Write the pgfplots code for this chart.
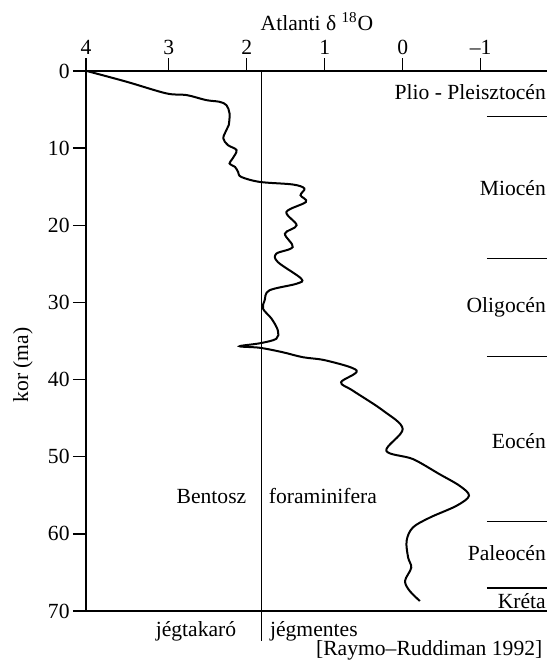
\documentclass[border=0pt]{standalone}
\usepackage{fontspec}
\setmainfont{Liberation Serif}
\usepackage{pgfplots}
\pgfplotsset{compat=1.18}
\begin{document}
\begin{tikzpicture}[font=\fontsize{10.8}{13}\selectfont]
\path[use as bounding box] (0,0) rectangle (273.5pt,332pt);
\begin{axis}[
  at={(43pt,26.5pt)}, anchor=south west,
  scale only axis, width=230.5pt, height=270pt,
  x dir=reverse, y dir=reverse,
  xmin=-1.85, xmax=4.06, ymin=0, ymax=70,
  axis x line*=box, axis y line*=left,
  axis line style={line width=0.7pt},
  xtick={4.06,3,2,1,0,-1}, xticklabels={4,3,2,1,0,–1},
  xtick pos=right, xticklabel pos=right,
  ytick={0,10,20,30,40,50,60,70}, ytick pos=left,
  tick align=outside, major tick length=6.5pt,
  tick style={line width=0.7pt, black},
  yticklabel style={/pgf/number format/assume math mode=true, inner sep=1.5pt},
  xticklabel style={inner sep=1.5pt},
  clip=false,
]
\addplot[black, smooth, tension=0.55, line width=1pt] coordinates {
(4.05,0) (3.54,1.39) (3.03,2.90) (2.77,3.12) (2.52,3.77) (2.35,3.99)
(2.26,4.42) (2.22,5.49) (2.23,7.01) (2.26,7.66) (2.30,8.74) (2.24,9.61)
(2.13,10.26) (2.18,11.34) (2.22,11.99) (2.15,12.43) (2.11,13.08) (2.07,13.73)
(1.83,14.38) (1.41,14.71) (1.26,15.23) (1.31,16.10) (1.24,16.97) (1.49,18.27)
(1.36,20.0) (1.51,21.08) (1.41,22.82) (1.62,23.68) (1.60,24.77) (1.30,26.92)
(1.36,27.57) (1.71,28.44) (1.77,29.74) (1.79,30.82) (1.68,32.12) (1.60,33.64)
(1.62,34.71) (1.83,35.29) (2.09,35.68) (1.83,35.88) (1.54,36.45) (1.28,37.1)
(0.98,37.53) (0.59,38.83) (0.79,40.35) (0.64,41.43) (0.25,44.03) (0.00,46.4)
(0.21,49.22) (-0.13,50.3) (-0.47,52.25) (-0.73,53.77) (-0.85,55.06) (-0.69,56.36)
(-0.35,57.88) (-0.13,59.18) (-0.05,60.91) (-0.07,63.08) (-0.11,64.38) (-0.03,66.1)
(-0.09,67.4) (-0.22,68.7)
};
\addplot[black, line width=0.6pt] coordinates {(1.81,0) (1.81,73.9)};
\addplot[black, line width=0.7pt] coordinates {(-1.08,5.9) (-1.85,5.9)};
\addplot[black, line width=0.7pt] coordinates {(-1.08,24.3) (-1.85,24.3)};
\addplot[black, line width=0.7pt] coordinates {(-1.08,37.0) (-1.85,37.0)};
\addplot[black, line width=0.7pt] coordinates {(-1.08,58.4) (-1.85,58.4)};
\addplot[black, line width=0.7pt] coordinates {(-1.08,67.0) (-1.85,67.0)};
\node[anchor=east, inner sep=0pt] at (axis cs:-1.84,2.7) {Plio - Pleisztocén};
\node[anchor=east, inner sep=0pt] at (axis cs:-1.84,15.2) {Miocén};
\node[anchor=east, inner sep=0pt] at (axis cs:-1.84,30.6) {Oligocén};
\node[anchor=east, inner sep=0pt] at (axis cs:-1.84,48.0) {Eocén};
\node[anchor=east, inner sep=0pt] at (axis cs:-1.84,62.5) {Paleocén};
\node[anchor=east, inner sep=0pt] at (axis cs:-1.84,68.7) {Kréta};
\node[anchor=east, inner sep=0pt] at (axis cs:2.0,55.1) {Bentosz};
\node[anchor=west, inner sep=0pt] at (axis cs:1.72,55.1) {foraminifera};
\node[anchor=east, inner sep=0pt] at (axis cs:2.13,72.6) {jégtakaró};
\node[anchor=west, inner sep=0pt] at (axis cs:1.705,72.6) {jégmentes};
\node[anchor=east, inner sep=0pt] at (axis cs:-1.795,75.1) {[Raymo–Ruddiman 1992]};
\end{axis}
\node at (158.5pt,321pt) {Atlanti δ \textsuperscript{18}O};
\node[rotate=90] at (11.5pt,149.5pt) {kor (ma)};
\end{tikzpicture}
\end{document}
